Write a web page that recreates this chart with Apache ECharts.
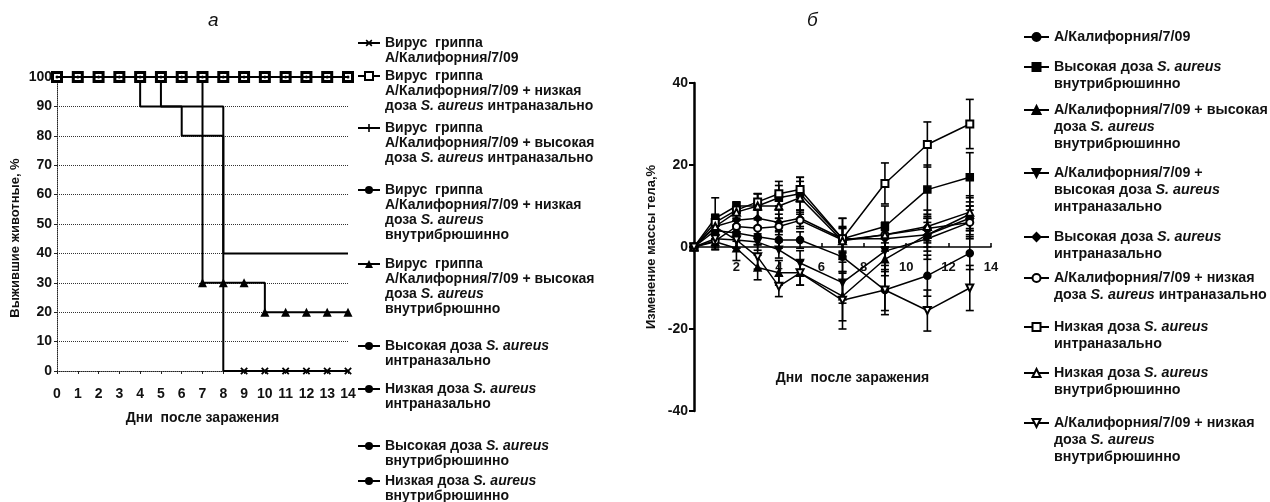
<!DOCTYPE html>
<html><head><meta charset="utf-8">
<script src="https://cdn.jsdelivr.net/npm/echarts@6/dist/echarts.min.js"></script>
<style>html,body{margin:0;padding:0;background:#fff}#c{width:1270px;height:502px}</style>
</head><body><div id="c"></div>
<script>
const FONT = "'Liberation Sans', Arial, Helvetica, sans-serif";

// ---------- Panel а: survival ----------
const daysA = [0,1,2,3,4,5,6,7,8,9,10,11,12,13,14];
const labelsA = [
  "Вирус  гриппа\nА/Калифорния/7/09",
  "Вирус  гриппа\nА/Калифорния/7/09 + низкая\nдоза S. aureus интраназально",
  "Вирус  гриппа\nА/Калифорния/7/09 + высокая\nдоза S. aureus интраназально",
  "Вирус  гриппа\nА/Калифорния/7/09 + низкая\nдоза S. aureus\nвнутрибрюшинно",
  "Вирус  гриппа\nА/Калифорния/7/09 + высокая\nдоза S. aureus\nвнутрибрюшнно",
  "Высокая доза S. aureus\nинтраназально",
  "Низкая доза S. aureus\nинтраназально",
  "Высокая доза S. aureus\nвнутрибрюшинно",
  "Низкая доза S. aureus\nвнутрибрюшинно"
];
const survA1 = [100,100,100,100,90,90,90,90,0,0,0,0,0,0,0];
const survA2 = [100,100,100,100,100,100,100,100,100,100,100,100,100,100,100];
const survA3 = [100,100,100,100,100,90,80,80,40,40,40,40,40,40,40];
const survA4 = [100,100,100,100,100,100,100,100,100,100,100,100,100,100,100];
const survA5 = [100,100,100,100,100,100,100,30,30,30,20,20,20,20,20];
const survA6 = [100,100,100,100,100,100,100,100,100,100,100,100,100,100,100];
const survA7 = [100,100,100,100,100,100,100,100,100,100,100,100,100,100,100];
const survA8 = [100,100,100,100,100,100,100,100,100,100,100,100,100,100,100];
const survA9 = [100,100,100,100,100,100,100,100,100,100,100,100,100,100,100];

// ---------- Panel б: body weight ----------
const daysB = [0,1,2,3,4,5,7,9,11,13];
const labelsB = [
  "А/Калифорния/7/09",
  "Высокая доза S. aureus\nвнутрибрюшинно",
  "А/Калифорния/7/09 + высокая\nдоза S. aureus\nвнутрибрюшинно",
  "А/Калифорния/7/09 +\nвысокая доза S. aureus\nинтраназально",
  "Высокая доза S. aureus\nинтраназально",
  "А/Калифорния/7/09 + низкая\nдоза S. aureus интраназально",
  "Низкая доза S. aureus\nинтраназально",
  "Низкая доза S. aureus\nвнутрибрюшинно",
  "А/Калифорния/7/09 + низкая\nдоза S. aureus\nвнутрибрюшинно"
];
const wB1 = [0, 4, 3.4, 2.5, 1.7, 1.7, -2.4, -10.5, -7, -1.5];
const wB2 = [0, 7, 10, 10, 12, 13, 2, 5, 14, 17];
const wB3 = [0, 1.3, -0.3, -5, -6.3, -6.3, -12, -3, 3, 8];
const wB4 = [0, 4.9, 1.7, 1.2, -0.7, -3.9, -8.7, -1, 2, 6];
const wB5 = [0, 5, 6.5, 7, 6, 7, 2, 2, 3, 7];
const wB6 = [0, 1.5, 5, 4.6, 5, 6.5, 1.7, 3, 4.5, 6];
const wB7 = [0, 6, 9, 11, 13, 14, 2, 15.5, 25, 30];
const wB8 = [0, 5, 8.5, 10, 10, 12, 1.5, 3, 5, 8.5];
const wB9 = [0, 2, 1.7, -2.4, -9.6, -6.3, -13, -10.5, -15.5, -10];
const eB1 = [0, 2, 2, 2, 2, 2, 4, 5, 5, 4];
const eB2 = [0, 5, 1, 3, 3, 4, 5, 5, 6, 6];
const eB3 = [0, 2, 3, 3, 3, 3, 6, 4, 4, 4];
const eB4 = [0, 2, 2, 2, 2, 3, 5, 5, 5, 4];
const eB5 = [0, 2, 2, 2, 2, 2, 3, 3, 3, 3];
const eB6 = [0, 2, 2, 2, 2, 2, 3, 3, 3, 3];
const eB7 = [0, 2, 2, 2, 3, 3, 5, 5, 5.5, 6];
const eB8 = [0, 2, 2, 3, 3, 4, 3, 3, 4, 4];
const eB9 = [0, 2, 2, 3, 2.5, 3, 7, 6, 5, 5.5];

// ---------- build ----------
const PA = 'а: ', PB = 'б: ';
const richify = t => t.split('S. aureus').join('{i|S. aureus}');
const survAll = [survA1,survA2,survA3,survA4,survA5,survA6,survA7,survA8,survA9];
const wAll = [wB1,wB2,wB3,wB4,wB5,wB6,wB7,wB8,wB9];
const eAll = [eB1,eB2,eB3,eB4,eB5,eB6,eB7,eB8,eB9];

const crossPath = 'path://M4,0H6V4H10V6H6V10H4V6H0V4H4Z';
const symA = [
  {s: crossPath, size: 9, rot: 45, show: (v,d)=> v===0 && d>8},
  {s: 'rect', size: 9, show: ()=>true, empty:true},
  {s: crossPath, size: 7, show: ()=>false},
  {s: 'none', size: 0, show: ()=>false},
  {s: 'triangle', size: 9, show: (v)=> v<100},
  {s: 'circle', size: 3, show: ()=>true},
  {s: 'none', size: 0, show: ()=>false},
  {s: 'none', size: 0, show: ()=>false},
  {s: 'none', size: 0, show: ()=>false}
];
const symB = [
  {s:'circle'}, {s:'rect'}, {s:'triangle'}, {s:'triangle', rot:180}, {s:'diamond'},
  {s:'emptyCircle'}, {s:'emptyRect'}, {s:'emptyTriangle'}, {s:'emptyTriangle', rot:180}
];

const series = [];
survAll.forEach((arr, k) => {
  const sy = symA[k];
  series.push({
    name: PA + labelsA[k], type: 'line', step: 'end', xAxisIndex: 0, yAxisIndex: 0,
    symbol: sy.s, symbolSize: sy.size, symbolRotate: sy.rot || 0, showAllSymbol: true,
    lineStyle: {color: '#000', width: 2}, z: 3 + (sy.empty ? 2 : 0) + (sy.s === 'circle' ? 4 : 0),
    itemStyle: sy.empty ? {color: '#fff', borderColor: '#000', borderWidth: 3} : {color: '#000'},
    data: arr.map((v, i) => sy.show(v, daysA[i]) ? [daysA[i], v] : {value: [daysA[i], v], symbol: 'none'})
  });
});

function errRender(params, api) {
  const x = api.value(0), lo = api.value(1), hi = api.value(2);
  if (!(hi > lo)) return;
  const a = api.coord([x, hi]), b = api.coord([x, lo]);
  const w = 4, st = {stroke: '#000', lineWidth: 1.6};
  return {type: 'group', children: [
    {type: 'line', shape: {x1: a[0], y1: a[1], x2: b[0], y2: b[1]}, style: st},
    {type: 'line', shape: {x1: a[0]-w, y1: a[1], x2: a[0]+w, y2: a[1]}, style: st},
    {type: 'line', shape: {x1: b[0]-w, y1: b[1], x2: b[0]+w, y2: b[1]}, style: st}
  ]};
}
wAll.forEach((arr, k) => {
  series.push({
    type: 'custom', xAxisIndex: 1, yAxisIndex: 1, silent: true, z: 2,
    renderItem: errRender, encode: {x: 0, y: [1, 2]},
    data: arr.map((v, i) => [daysB[i], v - eAll[k][i], v + eAll[k][i]])
  });
});
wAll.forEach((arr, k) => {
  const sy = symB[k];
  series.push({
    name: PB + labelsB[k], type: 'line', xAxisIndex: 1, yAxisIndex: 1,
    symbol: sy.s, symbolRotate: sy.rot || 0, symbolSize: 7, showAllSymbol: true, z: 4,
    lineStyle: {color: '#000', width: 1.5},
    itemStyle: {color: '#000', borderColor: '#000', borderWidth: 1.5},
    data: arr.map((v, i) => [daysB[i], v])
  });
});

function mkLegend(name, nLines, c, LH, left, iw, fs) {
  const pad = (nLines - 1) * LH;
  const T = (2 * nLines - 1) * LH;
  return {
    data: [name], left: left, top: c - T / 2, orient: 'vertical', padding: 0,
    itemWidth: iw, itemHeight: 10, selectedMode: false,
    formatter: n => richify(n.slice(3)),
    textStyle: {fontFamily: FONT, fontSize: fs, fontWeight: 'bold', color: '#111', lineHeight: LH,
      padding: [pad, 0, 0, 0],
      rich: {i: {fontFamily: FONT, fontSize: fs, fontStyle: 'italic', fontWeight: 'bold', color: '#111', lineHeight: LH}}}
  };
}
const legCA = [43, 76, 128, 190, 264, 346, 389, 446, 481];
const legCB = [37, 67, 110, 173, 237, 278, 327, 373, 423];
const legends = [];
labelsA.forEach((l, k) => legends.push(mkLegend(PA + l, l.split('\n').length, legCA[k], 15, 357, 22, 14)));
labelsB.forEach((l, k) => legends.push(mkLegend(PB + l, l.split('\n').length, legCB[k], 17, 1023, 25, 14.3)));

const axLabel = {fontFamily: FONT, fontSize: 14, fontWeight: 'bold', color: '#111'};
const option = {
  animation: false,
  backgroundColor: '#fff',
  title: [
    {text: 'а', left: 203, top: 6, textStyle: {fontFamily: FONT, fontSize: 19, fontStyle: 'italic', fontWeight: 'normal', color: '#111'}},
    {text: 'б', left: 802, top: 6, textStyle: {fontFamily: FONT, fontSize: 19, fontStyle: 'italic', fontWeight: 'normal', color: '#111'}}
  ],
  legend: legends,
  grid: [
    {left: 57, top: 77, width: 291, height: 294, outerBoundsMode: 'none', containLabel: false},
    {left: 694, top: 83, width: 297, height: 328, outerBoundsMode: 'none', containLabel: false},
    // upper half of panel б, used only to place the day labels right under the zero line
    {left: 694, top: 83, width: 297, height: 164, outerBoundsMode: 'none', containLabel: false}
  ],
  xAxis: [
    {type: 'value', gridIndex: 0, min: 0, max: 14, interval: 1,
     axisLine: {lineStyle: {color: '#222', width: 1, type: 'dotted'}},
     axisTick: {show: true, length: 3, lineStyle: {color: '#222'}},
     axisLabel: Object.assign({margin: 16}, axLabel),
     splitLine: {show: false},
     name: 'Дни  после заражения', nameLocation: 'middle', nameGap: 40,
     nameTextStyle: {fontFamily: FONT, fontSize: 14, fontWeight: 'bold', color: '#111'}},
    {type: 'value', gridIndex: 1, min: 0, max: 14, interval: 2,
     axisLine: {onZero: true, lineStyle: {color: '#000', width: 1.5}},
     axisTick: {show: true, inside: true, length: 4, lineStyle: {color: '#000', width: 1.5}},
     axisLabel: {show: false},
     splitLine: {show: false}},
    {type: 'value', gridIndex: 2, min: 0, max: 14, interval: 2,
     axisLine: {show: false}, axisTick: {show: false},
     axisLabel: Object.assign({margin: 14, formatter: v => v === 0 ? '' : String(v)}, axLabel, {fontSize: 13}),
     splitLine: {show: false},
     name: 'Дни  после заражения', nameLocation: 'middle', nameGap: 124,
     nameTextStyle: {fontFamily: FONT, fontSize: 14, fontWeight: 'bold', color: '#111', padding: [0, 0, 0, 20]}}
  ],
  yAxis: [
    {type: 'value', gridIndex: 0, min: 0, max: 100, interval: 10,
     axisLine: {show: true, lineStyle: {color: '#222', width: 1, type: 'dotted'}},
     axisTick: {show: true, length: 3, lineStyle: {color: '#222'}},
     axisLabel: Object.assign({margin: 5}, axLabel),
     splitLine: {show: true, lineStyle: {color: '#333', width: 1, type: 'dotted'}},
     name: 'Выжившие животные, %', nameLocation: 'middle', nameGap: 35,
     nameTextStyle: {fontFamily: FONT, fontSize: 13, fontWeight: 'bold', color: '#111', padding: [0, 28, 0, 0]}},
    {type: 'value', gridIndex: 1, min: -40, max: 40, interval: 20,
     axisLine: {show: true, lineStyle: {color: '#000', width: 2.5}},
     axisTick: {show: true, length: 5, lineStyle: {color: '#000', width: 2}},
     axisLabel: Object.assign({margin: 6}, axLabel),
     splitLine: {show: false},
     name: 'Изменение массы тела,%', nameLocation: 'middle', nameGap: 36,
     nameTextStyle: {fontFamily: FONT, fontSize: 13, fontWeight: 'bold', color: '#111'}},
    {type: 'value', gridIndex: 2, min: 0, max: 40, show: false}
  ],
  series: series
};
const chart = echarts.init(document.getElementById('c'), null, {renderer: 'canvas'});
chart.setOption(option);
</script></body></html>
